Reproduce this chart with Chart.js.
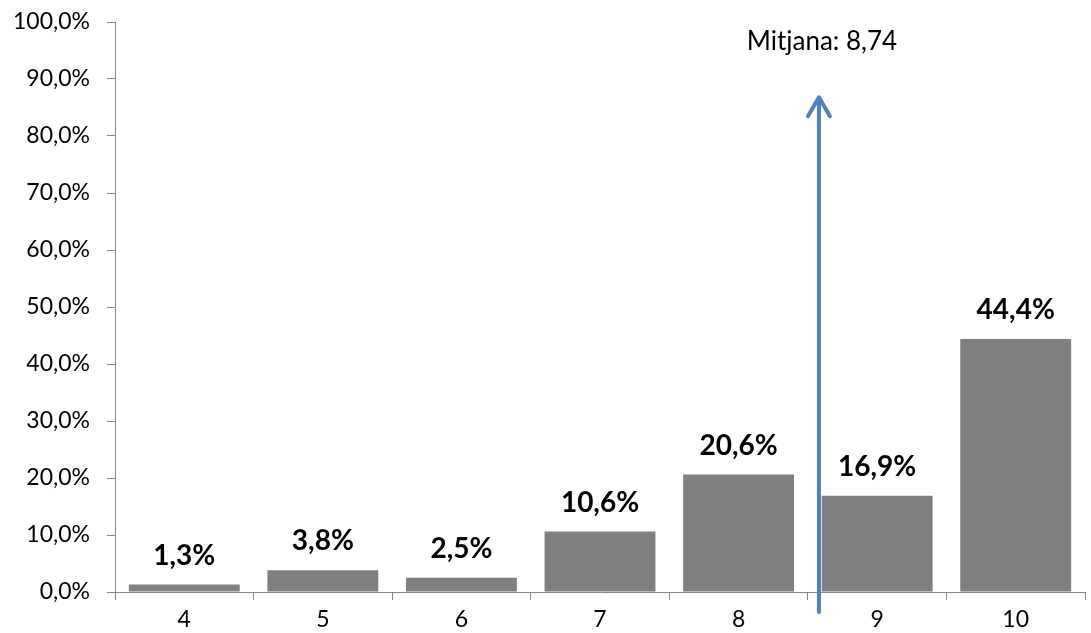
<!DOCTYPE html>
<html>
<head>
<meta charset="utf-8">
<script src="https://cdn.jsdelivr.net/npm/chart.js@4.4.1/dist/chart.umd.min.js"></script>
<style>
  html, body { margin: 0; padding: 0; background: #fff; }
  #wrap { width: 1091px; height: 633px; position: relative; }
</style>
</head>
<body>
<div id="wrap"><canvas id="grafic"></canvas></div>
<script>
// --- DADES ---
const categories = ['4', '5', '6', '7', '8', '9', '10'];
const percentatges = [1.3, 3.8, 2.5, 10.6, 20.6, 16.9, 44.4];
const mitjanaText = 'Mitjana: 8,74';
const mitjanaPos = 4.58; // posició de la fletxa en l'eix de categories
const fletxaInici = -3.5; // %
const fletxaFi = 86.8;    // %

const fontFamily = 'Lato, "Open Sans", sans-serif';
const fmt = (v) => v.toFixed(1).replace('.', ',') + '%';

// Etiquetes sobre les barres
const etiquetesPlugin = {
    id: 'etiquetes',
    afterDatasetsDraw(chart) {
        const ctx = chart.ctx;
        const meta = chart.getDatasetMeta(0);
        ctx.save();
        ctx.font = 'bold 28px ' + fontFamily;
        ctx.fillStyle = '#000';
        ctx.textAlign = 'center';
        ctx.textBaseline = 'alphabetic';
        meta.data.forEach((bar, i) => {
            ctx.fillText(fmt(percentatges[i]), bar.x, bar.y - 20);
        });
        ctx.restore();
    }
};

// Fletxa de la mitjana
const fletxaPlugin = {
    id: 'fletxa',
    afterDraw(chart) {
        const ctx = chart.ctx;
        const xs = chart.scales.x, ys = chart.scales.y;
        const x = xs.getPixelForValue(mitjanaPos);
        const y0 = ys.getPixelForValue(fletxaInici);
        const y1 = ys.getPixelForValue(fletxaFi);
        ctx.save();
        ctx.strokeStyle = '#4F81BD';
        ctx.lineWidth = 4;
        ctx.lineCap = 'round';
        ctx.lineJoin = 'round';
        ctx.beginPath();
        ctx.moveTo(x, y0);
        ctx.lineTo(x, y1 + 2);
        ctx.stroke();
        ctx.beginPath();
        ctx.moveTo(x - 11, y1 + 19);
        ctx.lineTo(x, y1);
        ctx.lineTo(x + 11, y1 + 19);
        ctx.stroke();
        ctx.font = '26px ' + fontFamily;
        ctx.fillStyle = '#000';
        ctx.textAlign = 'center';
        ctx.textBaseline = 'middle';
        ctx.fillText(mitjanaText, x + 3, 42);
        ctx.restore();
    }
};

new Chart(document.getElementById('grafic'), {
    type: 'bar',
    data: {
        labels: categories,
        datasets: [{
            data: percentatges,
            backgroundColor: '#808080',
            borderWidth: 0,
            categoryPercentage: 0.8,
            barPercentage: 1
        }]
    },
    options: {
        responsive: true,
        maintainAspectRatio: false,
        animation: false,
        layout: { padding: { top: 22, right: 6, bottom: 0, left: 0 } },
        plugins: { legend: { display: false }, tooltip: { enabled: false } },
        scales: {
            x: {
                grid: {
                    offset: true,
                    drawOnChartArea: false,
                    color: '#868686',
                    tickLength: 8
                },
                border: { color: '#868686', width: 1 },
                ticks: { color: '#000', font: { size: 23, family: fontFamily }, padding: 6 },
                afterFit(scale) { scale.height = 41; }
            },
            y: {
                min: 0,
                max: 100,
                afterFit(scale) {
                    scale.width = 115;
                    scale.paddingTop = 0;
                    scale.paddingBottom = 0;
                },
                grid: {
                    drawOnChartArea: false,
                    color: '#868686',
                    tickLength: 8
                },
                border: { color: '#868686', width: 1 },
                ticks: {
                    stepSize: 10,
                    color: '#000',
                    font: { size: 23, family: fontFamily },
                    padding: 17,
                    callback: (v) => fmt(v)
                }
            }
        }
    },
    plugins: [etiquetesPlugin, fletxaPlugin]
});
</script>
</body>
</html>
